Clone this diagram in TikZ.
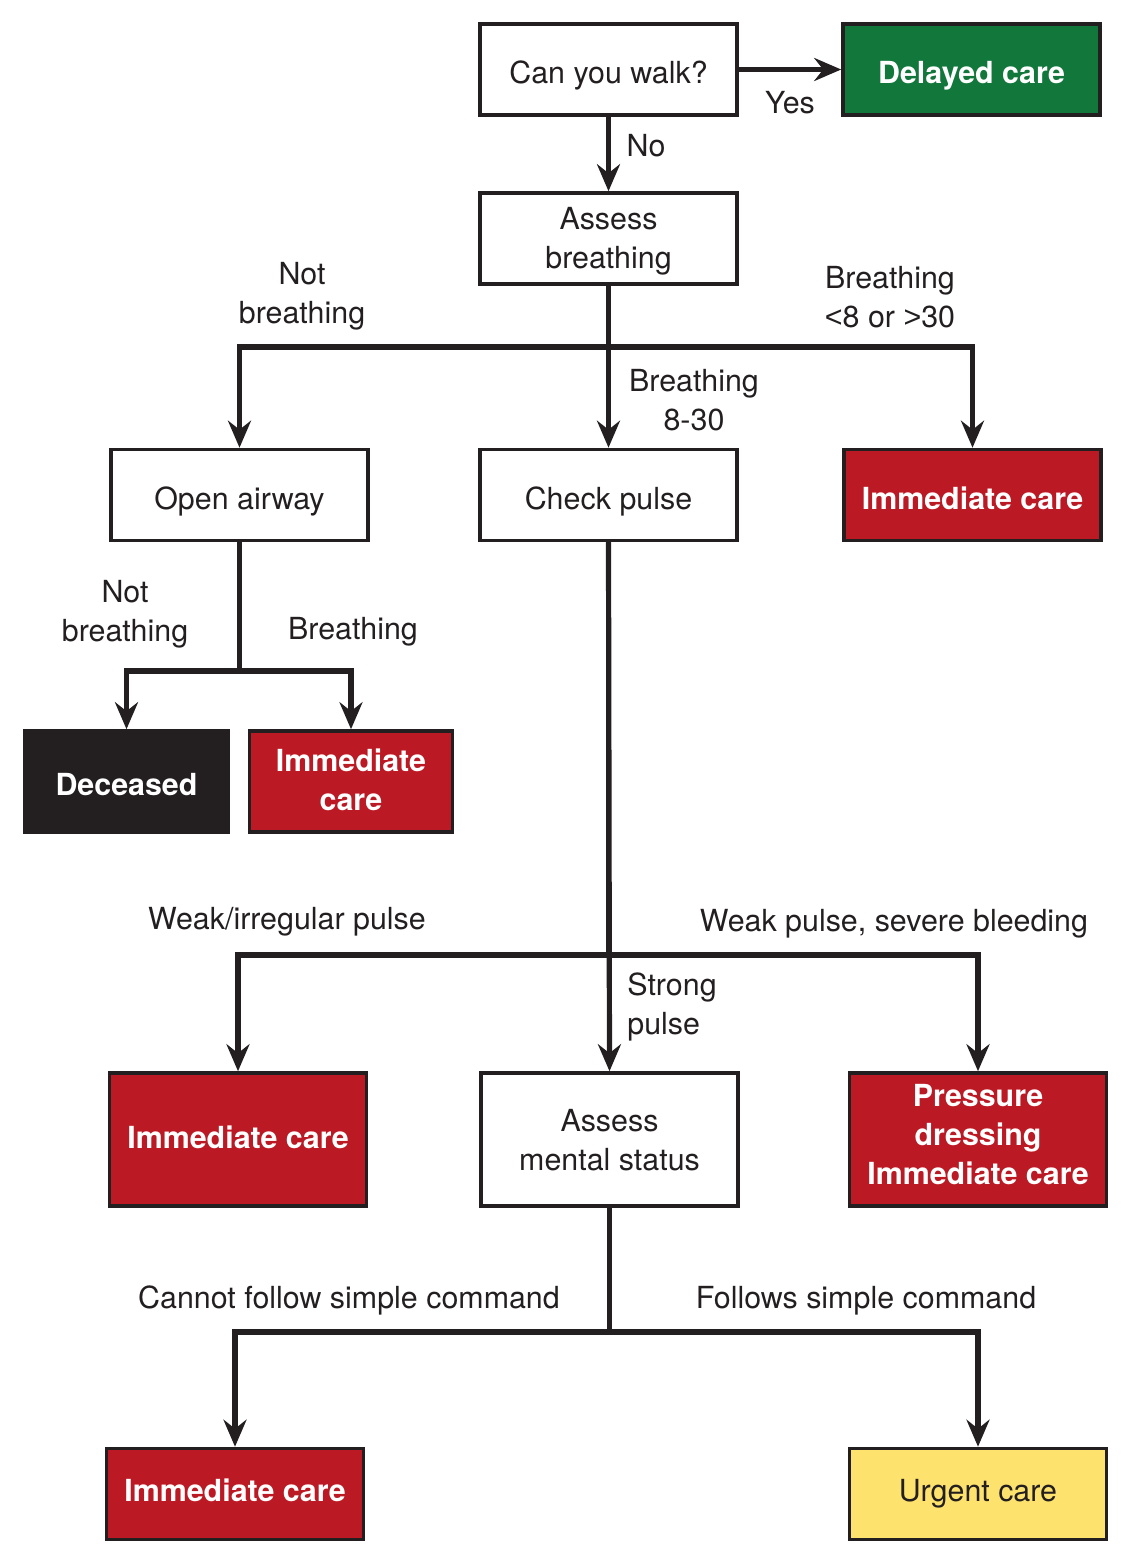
\documentclass[tikz,border=0pt]{standalone}
\usepackage{fontspec}
\setmainfont{TeX Gyre Heros}
\newfontfamily\signfont{Liberation Sans}
\usetikzlibrary{arrows.meta}
\definecolor{ink}{HTML}{231F20}
\definecolor{walkgreen}{HTML}{11773B}
\definecolor{carered}{HTML}{BB1924}
\definecolor{urgentyellow}{HTML}{FDE26E}
\newcommand{\flowsize}{\fontsize{15.2pt}{19.5pt}\selectfont}
\tikzset{
  box/.style={draw=ink,line width=1.8pt,minimum width=128.5pt,minimum height=45.5pt,inner sep=0pt,align=center,text=ink,font=\flowsize},
  oneline/.style={text height=14pt,text depth=0pt},
  tag/.style={fill=carered,text=white,font=\flowsize\bfseries},
  lbl/.style={align=center,text=ink,inner sep=0pt,font=\flowsize},
  arr/.style={draw=ink,line width=2.6pt,-{Stealth[length=13.5pt,width=11.5pt,inset=4.5pt]}}
}
\begin{document}
\begin{tikzpicture}[x=0.5pt,y=-0.5pt]
\useasboundingbox (0,0) rectangle (1130,1558);
\node[box,oneline] (walk) at (608.5,69.5) {Can you walk?};
\node[box,oneline,fill=walkgreen,text=white,font=\flowsize\bfseries] (delayed) at (971.5,69.5) {Delayed care};
\node[box,text height=29.8pt,text depth=0pt] (breath) at (608.5,238.5) {Assess\\breathing};
\node[box,oneline] (airway) at (239.5,495) {Open airway};
\node[box,oneline] (pulse) at (608.5,495) {Check pulse};
\node[box,oneline,tag] (imm1) at (972.5,495) {Immediate care};
\node[box,oneline,fill=ink,text=white,font=\flowsize\bfseries,minimum width=101.5pt,minimum height=50.5pt] (dec) at (126.5,781.5) {Deceased};
\node[box,tag,text height=28.8pt,text depth=0pt,minimum width=101.5pt,minimum height=50.5pt] (imm2) at (351,781.5) {Immediate\\care};
\node[box,tag,text height=8.8pt,text depth=0pt,minimum height=66.5pt] (imm3) at (238,1139.5) {Immediate care};
\node[box,text height=31.2pt,text depth=0pt,minimum height=66.5pt] (mental) at (609.5,1139.5) {Assess\\mental status};
\node[box,tag,text height=45.2pt,text depth=0pt,minimum height=66.5pt] (press) at (978,1139.5) {Pressure\\dressing\\Immediate care};
\node[box,tag,text height=7.7pt,text depth=0pt] (imm4) at (235,1494) {Immediate care};
\node[box,text height=7.7pt,text depth=0pt,fill=urgentyellow] (urgent) at (978,1494) {Urgent care};
\coordinate (j1) at (0,347);
\coordinate (j2) at (0,671);
\coordinate (j3) at (0,955);
\coordinate (j4) at (0,1332);
\draw[arr] (walk.east) -- (delayed.west);
\draw[arr] (walk.south) -- (breath.north);
\draw[arr] (breath.south) -- (pulse.north);
\draw[arr] (pulse.south) -- (mental.north);
\foreach \s/\j/\t in {breath/j1/airway,breath/j1/imm1,airway/j2/dec,airway/j2/imm2,pulse/j3/imm3,pulse/j3/press,mental/j4/imm4,mental/j4/urgent}
  \draw[arr] (\s.south) -- (\s.south |- \j) -| (\t.north);
\node[lbl] (yes) at (790,103) {Yes};
\node[lbl] (no) at (646,146) {No};
\node[lbl] (notbr1) at (302,296) {Not\\breathing};
\node[lbl] (fast) at (890,297) {Breathing\\{\signfont<}8 or {\signfont>}30};
\node[lbl] (normal) at (694,400) {Breathing\\8-30};
\node[lbl] (notbr2) at (125,614) {Not\\breathing};
\node[lbl] (br2) at (353,632) {Breathing};
\node[lbl] (weak) at (287,922) {Weak/irregular pulse};
\node[lbl] (bleed) at (894,924) {Weak pulse, severe bleeding};
\node[lbl,anchor=west,align=left] (strong) at (627,1007) {Strong\\pulse};
\node[lbl] (nocmd) at (349,1300) {Cannot follow simple command};
\node[lbl] (cmd) at (866,1301) {Follows simple command};
\end{tikzpicture}
\end{document}
